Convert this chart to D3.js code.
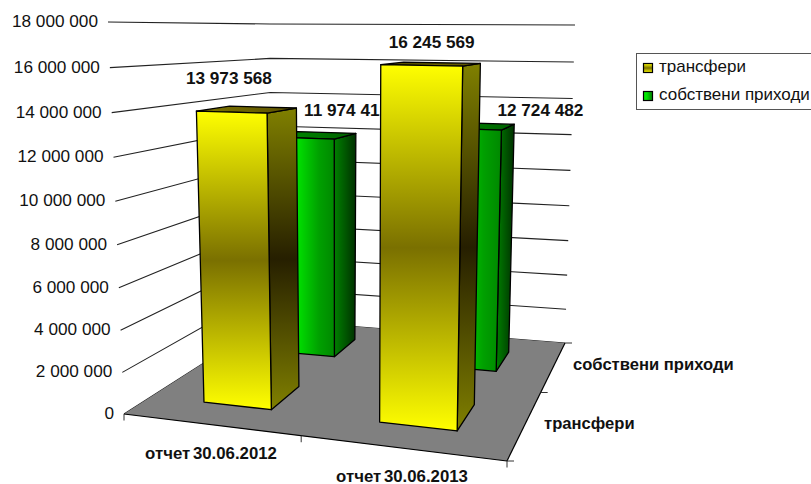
<!DOCTYPE html>
<html><head><meta charset="utf-8">
<script src="https://cdn.jsdelivr.net/npm/d3@7/dist/d3.min.js"></script>
<style>html,body{margin:0;padding:0;background:#fff;overflow:hidden}svg{display:block}text{font-family:"Liberation Sans",Arial,sans-serif;fill:#111}</style>
</head><body><svg id="c" width="811" height="484"></svg>
<script>
const categories = ["отчет 30.06.2012", "отчет 30.06.2013"];
const seriesNames = ["трансфери", "собствени приходи"];
const transfers = [13973568, 16245569];
const ownRevenue = [11974412, 12724482];
const valueTicks = [0, 2000000, 4000000, 6000000, 8000000, 10000000, 12000000, 14000000, 16000000, 18000000];

// layout of the 3D box: corners as [x, y]
const floorQuad = [[124,414],[507,461],[565,343],[271,320]];
const topQuad   = [[108,22],[517,25],[575,25],[270,24]];
const verticalPerspective = 0.95;

function homography(q){
  const [[x0,y0],[x1,y1],[x2,y2],[x3,y3]] = q;
  const sx=x0-x1+x2-x3, sy=y0-y1+y2-y3, dx1=x1-x2, dx2=x3-x2, dy1=y1-y2, dy2=y3-y2;
  const den=dx1*dy2-dx2*dy1, g=(sx*dy2-dx2*sy)/den, h=(dx1*sy-sx*dy1)/den;
  const a=x1-x0+g*x1, b=x3-x0+h*x3, d=y1-y0+g*y1, e=y3-y0+h*y3;
  const weight=(u,v)=>g*u+h*v+1;
  const fn=(u,v)=>{const w=weight(u,v);return [(a*u+b*v+x0)/w,(d*u+e*v+y0)/w];};
  fn.weight=weight;
  return fn;
}
const floorH = homography(floorQuad);
const cornerUV=[[0,0],[1,0],[1,1],[0,1]];
const scaledOffset=cornerUV.map(([u,v],i)=>{
  const w=floorH.weight(u,v);
  return [(topQuad[i][0]-floorQuad[i][0])*w,(topQuad[i][1]-floorQuad[i][1])*w];
});
const value = d3.scaleLinear().domain([0,18000000]).range([0,1]);
const project = (u,v,val)=>{
  const s=value(val), a=verticalPerspective, t=s*a/(1+(a-1)*s);
  const p=floorH(u,v), w=floorH.weight(u,v);
  const bil=k=>((1-u)*(1-v)*scaledOffset[0][k]+u*(1-v)*scaledOffset[1][k]+u*v*scaledOffset[2][k]+(1-u)*v*scaledOffset[3][k])/w;
  return [p[0]+bil(0)*t, p[1]+bil(1)*t];
};
const catBand = d3.scaleBand().domain(categories).range([0.012,1]).paddingInner(0.6).paddingOuter(0.3);
const serBand = d3.scaleBand().domain(seriesNames).range([0,1]).paddingInner(0.6).paddingOuter(0.3);
const fmt = v => d3.format(",")(v).replace(/,/g," ");

const svg = d3.select("#c");
const defs = svg.append("defs");
function grad(id,horizontal,stops){
  const g=defs.append("linearGradient").attr("id",id).attr("x1",0).attr("y1",0)
    .attr("x2",horizontal?1:0).attr("y2",horizontal?0:1);
  stops.forEach(([o,c])=>g.append("stop").attr("offset",o).attr("stop-color",c));
}
grad("tF",false,[[0,"#ffff00"],[0.5,"#7a7000"],[1,"#ffff00"]]);
grad("tS",false,[[0,"#808000"],[0.5,"#261f00"],[1,"#808000"]]);
grad("tT",true,[[0,"#7e7600"],[1,"#5a5000"]]);
grad("gF",true,[[0,"#00f000"],[0.4,"#00e000"],[0.75,"#00a000"],[1,"#008800"]]);
grad("gS",true,[[0,"#008000"],[1,"#003000"]]);
grad("gT",true,[[0,"#009000"],[1,"#006000"]]);

const line = d3.line();
const poly = (pts,fill)=>svg.append("path").attr("d",line(pts)+"Z").attr("fill",fill)
  .attr("stroke","#000").attr("stroke-width",1.3).attr("stroke-linejoin","round");
const seg = (a,b,w=1.2,c="#111")=>svg.append("line").attr("x1",a[0]).attr("y1",a[1]).attr("x2",b[0]).attr("y2",b[1])
  .attr("stroke",c).attr("stroke-width",w);

// walls
valueTicks.forEach(t=>{
  const a=project(0,0,t), b=project(0,1,t), c=project(1,1,t);
  svg.append("path").attr("d",line([a,b,c])).attr("fill","none").attr("stroke","#222").attr("stroke-width",1.1);
  svg.append("text").attr("x",a[0]-10).attr("y",a[1]+5).attr("text-anchor","end")
    .attr("font-size",17.2).text(fmt(t));
});
// floor
svg.append("path").attr("d",line(floorQuad)+"Z").attr("fill","#808080").attr("stroke","none");
seg(floorQuad[0],floorQuad[1],1.2,"#000");
seg(floorQuad[1],floorQuad[2],1.2,"#000");
// ticks
[0,0.5,1].forEach(u=>{const p=project(u,0,0);seg(p,[p[0],p[1]+6.5],1,"#333");});
[0,0.5,1].forEach(v=>{const p=project(1,v,0);seg(p,[p[0]+7,p[1]],1,"#333");});

function bar(catI,serI,val,fills){
  const u0=catBand(categories[catI]),u1=u0+catBand.bandwidth();
  const v0=serBand(seriesNames[serI]),v1=v0+serBand.bandwidth();
  poly([project(u1,v0,0),project(u1,v1,0),project(u1,v1,val),project(u1,v0,val)],fills[1]);
  poly([project(u0,v0,val),project(u1,v0,val),project(u1,v1,val),project(u0,v1,val)],fills[2]);
  poly([project(u0,v0,0),project(u1,v0,0),project(u1,v0,val),project(u0,v0,val)],fills[0]);
  return project((u0+u1)/2,(v0+v1)/2,val);
}
function label(p,val,dx,dy){
  svg.append("text").attr("x",p[0]+dx).attr("y",p[1]+dy).attr("text-anchor","middle")
    .attr("font-size",17.2).attr("font-weight","bold").text(fmt(val));
}
const tFill=["url(#tF)","url(#tS)","url(#tT)"], gFill=["url(#gF)","url(#gS)","url(#gT)"];
// painter's order: back row first within each category
label(bar(0,1,ownRevenue[0],gFill),ownRevenue[0],31.5,-19);
label(bar(0,0,transfers[0],tFill),transfers[0],-18.5,-26);
label(bar(1,1,ownRevenue[1],gFill),ownRevenue[1],66.5,-10);
label(bar(1,0,transfers[1],tFill),transfers[1],0,-16);

// axis category labels
const catLabelPos=[[211,459],[402,481.5]];
categories.forEach((c,i)=>svg.append("text").attr("x",catLabelPos[i][0]).attr("y",catLabelPos[i][1])
  .attr("text-anchor","middle").attr("font-size",16.8).attr("font-weight","bold").attr("word-spacing",-2).text(c));
const serLabelPos=[[544,429],[573,370]];
seriesNames.forEach((s,i)=>svg.append("text").attr("x",serLabelPos[i][0]).attr("y",serLabelPos[i][1])
  .attr("font-size",16.6).attr("font-weight","bold").text(s));

// legend
svg.append("rect").attr("x",636.5).attr("y",53.5).attr("width",200).attr("height",56)
  .attr("fill","#fff").attr("stroke","#555").attr("stroke-width",1);
seriesNames.forEach((s,i)=>{
  const y=63+i*28;
  svg.append("rect").attr("x",643.5).attr("y",y+0.5).attr("width",9).attr("height",9)
    .attr("fill",i==0?"url(#tF)":"url(#gF)").attr("stroke","#000").attr("stroke-width",1.2);
  svg.append("text").attr("x",659).attr("y",y+9).attr("font-size",17).text(s);
});
</script></body></html>
